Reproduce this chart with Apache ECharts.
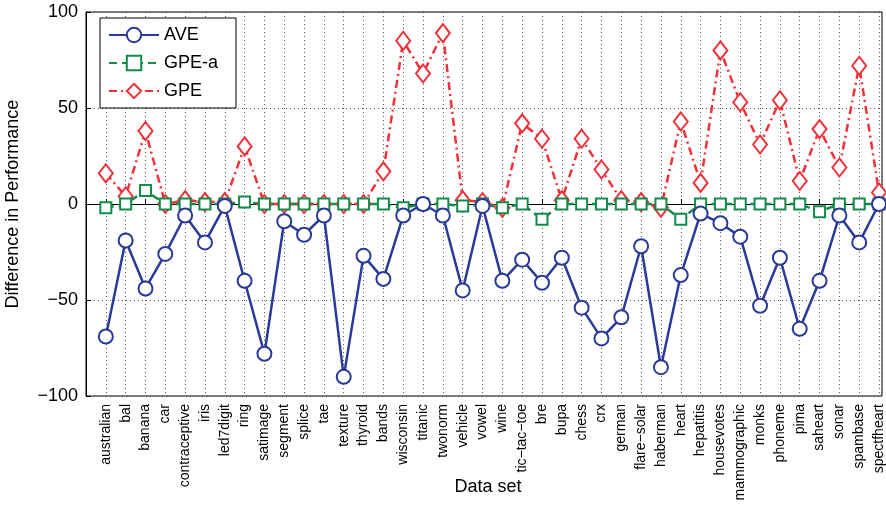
<!DOCTYPE html>
<html>
<head>
<meta charset="utf-8">
<script src="https://cdn.jsdelivr.net/npm/echarts@6/dist/echarts.min.js"></script>
<style>html,body{margin:0;padding:0;background:#fff}#c{width:886px;height:505px}</style>
</head>
<body>
<div id="c"></div>
<script>
const datasets = ['australian', 'bal', 'banana', 'car', 'contraceptive', 'iris', 'led7digit', 'ring', 'satimage', 'segment',
  'splice', 'tae', 'texture', 'thyroid', 'bands', 'wisconsin', 'titanic', 'twonorm', 'vehicle', 'vowel',
  'wine', 'tic\u2212tac\u2212toe', 'bre', 'bupa', 'chess', 'crx', 'german', 'flare\u2212solar', 'haberman', 'heart',
  'hepatitis', 'housevotes', 'mammographic', 'monks', 'phoneme', 'pima', 'saheart', 'sonar', 'spambase', 'spectfheart']
const ave = [-69, -19, -44, -26, -6, -20, -1, -40, -78, -9, -16, -6, -90, -27, -39, -6, 0, -6, -45, -1,
  -40, -29, -41, -28, -54, -70, -59, -22, -85, -37, -5, -10, -17, -53, -28, -65, -40, -6, -20, 0]
const gpeA = [-2, 0, 7, 0, 0, 0, 0, 1, 0, 0, 0, 0, 0, 0, 0, -2, 0, 0, -1, 0,
  -2, 0, -8, 0, 0, 0, 0, 0, 0, -8, 0, 0, 0, 0, 0, 0, -4, 0, 0, 0]
const gpe = [16, 4, 38, 0, 2, 1, 1, 30, 0, 0, 0, 0, 0, 0, 17, 85, 68, 89, 2, 1,
  -2, 42, 34, 2, 34, 18, 2, 1, -2, 43, 11, 80, 53, 31, 54, 12, 39, 19, 72, 6]
const yTicks = [-100, -50, 0, 50, 100]

const pts = arr => arr.map((v, i) => [i + 1, v])
const chart = echarts.init(document.getElementById('c'))
const font = 'Liberation Sans'
chart.setOption({
  animation: false,
  textStyle: { fontFamily: font },
  // x axis name drawn as a title so it is not pushed off by the long labels
  title: {
    text: 'Data set', left: 483, top: 473, textAlign: 'center',
    textStyle: { fontSize: 18, fontWeight: 'normal', color: '#000', fontFamily: font }
  },
  grid: {
    left: 86, right: 4, top: 12, bottom: 109, outerBoundsMode: 'none', containLabel: false,
    show: true, borderColor: '#000', borderWidth: 1
  },
  legend: {
    orient: 'vertical', left: 100, top: 18, itemGap: 10, itemWidth: 50, itemHeight: 18,
    padding: [8, 18, 8, 8], borderColor: '#000', borderWidth: 1, backgroundColor: '#fff',
    textStyle: { fontSize: 18, color: '#000', fontFamily: font },
    data: ['AVE', 'GPE-a', 'GPE']
  },
  xAxis: {
    type: 'value', min: 0, max: 40.15, interval: 1,
    axisLine: { lineStyle: { color: '#000' } },
    axisTick: { inside: true, length: 5, lineStyle: { color: '#000' } },
    axisLabel: {
      rotate: 90, fontSize: 14, color: '#000', margin: 8,
      formatter: v => datasets[v - 1] || ''
    },
    splitLine: { show: true, lineStyle: { type: [1, 3], color: '#555' } }
  },
  yAxis: {
    type: 'value', min: yTicks[0], max: yTicks[yTicks.length - 1], interval: 50,
    name: 'Difference in Performance', nameLocation: 'middle', nameGap: 64,
    nameTextStyle: { fontSize: 18, color: '#000' },
    axisLine: { show: true, lineStyle: { color: '#000' } },
    axisTick: { inside: true, length: 5, lineStyle: { color: '#000' } },
    axisLabel: { fontSize: 18, color: '#000', formatter: v => v < 0 ? '\u2212' + (-v) : v },
    splitLine: { show: true, lineStyle: { type: [1, 3], color: '#555' } }
  },
  series: [
    {
      name: 'GPE', type: 'line', data: pts(gpe), symbol: 'diamond', symbolSize: [14, 18],
      lineStyle: { color: '#f0313a', width: 2.5, type: [8, 4, 2, 4] },
      itemStyle: { color: '#fff', borderColor: '#f0313a', borderWidth: 2 }
    },
    {
      name: 'GPE-a', type: 'line', data: pts(gpeA), symbol: 'rect', symbolSize: 11,
      lineStyle: { color: '#128a4a', width: 2.5, type: [8, 5] },
      itemStyle: { color: '#fff', borderColor: '#128a4a', borderWidth: 2 }
    },
    {
      name: 'AVE', type: 'line', data: pts(ave), symbol: 'circle', symbolSize: 14,
      lineStyle: { color: '#2b3a98', width: 2.5 },
      itemStyle: { color: '#fff', borderColor: '#2b3a98', borderWidth: 2 }
    }
  ]
})
</script>
</body>
</html>
